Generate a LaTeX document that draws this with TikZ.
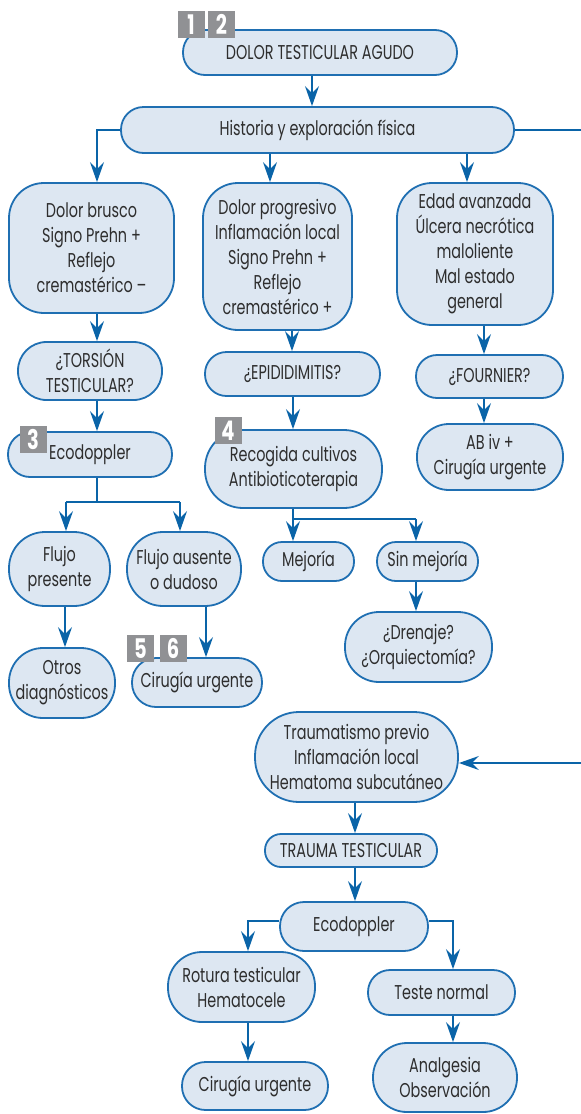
\documentclass[tikz,border=0pt]{standalone}
\usepackage{fontspec}
\setmainfont{Poppins}[FakeStretch=0.72]
\usetikzlibrary{arrows.meta,calc}
\definecolor{boxfill}{HTML}{DDE7F2}
\definecolor{boxline}{HTML}{1F6FB2}
\definecolor{arrowc}{HTML}{0A64A8}
\definecolor{txt}{HTML}{2E2E2E}
\definecolor{badge}{HTML}{909194}
\tikzset{
 box/.style={draw=boxline, line width=1.8pt, fill=boxfill, text=txt, align=center, inner sep=0pt, font=\fontsize{20}{25}\selectfont},
 conn/.style={draw=arrowc, line width=2pt},
 arr/.style={conn, -{Stealth[length=20pt,width=14pt,inset=7pt]}},
 badgebox/.style={fill=badge, text=white, minimum size=27pt, inner sep=0pt, font=\fontsize{27}{27}\selectfont\bfseries}
}
\begin{document}
\begin{tikzpicture}[x=1pt,y=-1pt]
\useasboundingbox (0,0) rectangle (581,1114);
% nodes
\node[box, minimum width=274pt, minimum height=45pt, rounded corners=22pt] (top) at (320,52.5) {DOLOR TESTICULAR AGUDO};
\node[box, minimum width=393pt, minimum height=46pt, rounded corners=22.5pt] (hist) at (317.5,130) {Historia y exploración física};
\node[box, minimum width=165pt, minimum height=130pt, rounded corners=35pt] (brusco) at (91.5,248) {Dolor brusco\\Signo Prehn +\\Reflejo\\cremastérico –};
\node[box, minimum width=149pt, minimum height=147pt, rounded corners=35pt] (prog) at (277.5,256.5) {Dolor progresivo\\Inflamación local\\Signo Prehn +\\Reflejo\\cremastérico +};
\node[box, minimum width=156pt, minimum height=142pt, rounded corners=35pt] (edad) at (475,254) {Edad avanzada\\Úlcera necrótica\\maloliente\\Mal estado\\general};
\node[box, minimum width=144pt, minimum height=58pt, rounded corners=28.5pt] (tors) at (90,371) {¿TORSIÓN\\TESTICULAR?};
\node[box, minimum width=164pt, minimum height=45pt, rounded corners=22pt] (eco1) at (90,454.5) {Ecodoppler};
\node[box, minimum width=101pt, minimum height=74pt, rounded corners=36pt] (flujoP) at (59.5,569) {Flujo\\presente};
\node[box, minimum width=114pt, minimum height=74pt, rounded corners=36pt] (flujoA) at (184,569) {Flujo ausente\\o dudoso};
\node[box, minimum width=106pt, minimum height=70pt, rounded corners=34pt] (otros) at (62,683) {Otros\\diagnósticos};
\node[box, minimum width=130pt, minimum height=49pt, rounded corners=24pt] (cir1) at (197,682.5) {Cirugía urgente};
\node[box, minimum width=175pt, minimum height=44pt, rounded corners=21.5pt] (epid) at (292.5,374) {¿EPIDIDIMITIS?};
\node[box, minimum width=177pt, minimum height=78pt, rounded corners=38pt] (recog) at (293.5,469) {Recogida cultivos\\Antibioticoterapia};
\node[box, minimum width=91pt, minimum height=39pt, rounded corners=19pt] (mej) at (308.5,561.5) {Mejoría};
\node[box, minimum width=101pt, minimum height=39pt, rounded corners=19pt] (sinmej) at (427.5,561.5) {Sin mejoría};
\node[box, minimum width=147pt, minimum height=70pt, rounded corners=34pt] (dren) at (418.5,647) {¿Drenaje?\\¿Orquiectomía?};
\node[box, minimum width=147pt, minimum height=43pt, rounded corners=21pt] (fourn) at (489.5,376.5) {¿FOURNIER?};
\node[box, minimum width=146pt, minimum height=66pt, rounded corners=32pt] (abiv) at (490,457) {AB iv +\\Cirugía urgente};
\node[box, minimum width=203pt, minimum height=90pt, rounded corners=44pt] (trauma) at (356.5,757) {Traumatismo previo\\Inflamación local\\Hematoma subcutáneo};
\node[box, minimum width=172pt, minimum height=33pt, rounded corners=16pt] (ttest) at (351,850.5) {TRAUMA TESTICULAR};
\node[box, minimum width=148pt, minimum height=49pt, rounded corners=24pt] (eco2) at (354,926.5) {Ecodoppler};
\node[box, minimum width=147pt, minimum height=70pt, rounded corners=34pt] (rot) at (241.5,987) {Rotura testicular\\Hematocele};
\node[box, minimum width=147pt, minimum height=45pt, rounded corners=22pt] (teste) at (441.5,992.5) {Teste normal};
\node[box, minimum width=146pt, minimum height=48pt, rounded corners=23.5pt] (cir2) at (255,1086) {Cirugía urgente};
\node[box, minimum width=144pt, minimum height=69pt, rounded corners=34pt] (analg) at (445,1077.5) {Analgesia\\Observación};
% badges
\node[badgebox] (b1) at (191,24.5) {1};
\node[badgebox] (b2) at (221.5,24.5) {2};
\node[badgebox] (b3) at (33,439) {3};
\node[badgebox] (b4) at (228,430.5) {4};
\node[badgebox] (b5) at (140.5,648.5) {5};
\node[badgebox] (b6) at (173,648.5) {6};
% helper x positions
\coordinate (x97) at (97,0);
\coordinate (x270) at (270,0);
\coordinate (x467) at (467,0);
\coordinate (x312) at (312,0);
\coordinate (x66) at (66,0);
\coordinate (x180) at (180,0);
\coordinate (x65) at (65,0);
\coordinate (x206) at (206,0);
\coordinate (x292) at (292,0);
\coordinate (x293) at (293,0);
\coordinate (x416) at (416,0);
\coordinate (x484) at (484,0);
\coordinate (x355) at (355,0);
\coordinate (x248) at (248,0);
\coordinate (x453) at (453,0);
\coordinate (y502) at (0,502);
\coordinate (y519) at (0,519);
\coordinate (y921) at (0,921);
\coordinate (redge1) at (581,130);
\coordinate (redge2) at (581,763);
% connectors
\draw[arr] (top.south -| x312) -- (hist.north -| x312);
\draw[arr] (hist.west) -| (brusco.north -| x97);
\draw[arr] (hist.south -| x270) -- (prog.north -| x270);
\draw[arr] (hist.south -| x467) -- (edad.north -| x467);
\draw[conn] (hist.east) -- (redge1);
\draw[arr] (brusco.south -| x97) -- (tors.north -| x97);
\draw[arr] (tors.south -| x97) -- (eco1.north -| x97);
\draw[conn] (eco1.south -| x97) -- (x97 |- y502);
\draw[arr] (x66 |- y502) -- (flujoP.north -| x66);
\draw[conn] (x66 |- y502) -- (x180 |- y502);
\draw[arr] (x180 |- y502) -- (flujoA.north -| x180);
\draw[arr] (flujoP.south -| x65) -- (otros.north -| x65);
\draw[arr] (flujoA.south -| x206) -- (cir1.north -| x206);
\draw[arr] (prog.south -| x292) -- (epid.north -| x292);
\draw[arr] (epid.south -| x293) -- (recog.north -| x293);
\draw[arr] (recog.south -| x293) -- (mej.north -| x293);
\draw[conn] (x293 |- y519) -- (x416 |- y519);
\draw[arr] (x416 |- y519) -- (sinmej.north -| x416);
\draw[arr] (sinmej.south -| x416) -- (dren.north -| x416);
\draw[arr] (edad.south -| x484) -- (fourn.north -| x484);
\draw[arr] (fourn.south -| x484) -- (abiv.north -| x484);
\draw[arr] (redge2) -- (redge2 -| trauma.east);
\draw[arr] (trauma.south -| x355) -- (ttest.north -| x355);
\draw[arr] (ttest.south -| x355) -- (eco2.north -| x355);
\draw[arr] (eco2.west |- y921) -| (rot.north -| x248);
\draw[arr] (eco2.east |- y921) -| (teste.north -| x453);
\draw[arr] (rot.south -| x248) -- (cir2.north -| x248);
\draw[arr] (teste.south -| x453) -- (analg.north -| x453);
\end{tikzpicture}
\end{document}
